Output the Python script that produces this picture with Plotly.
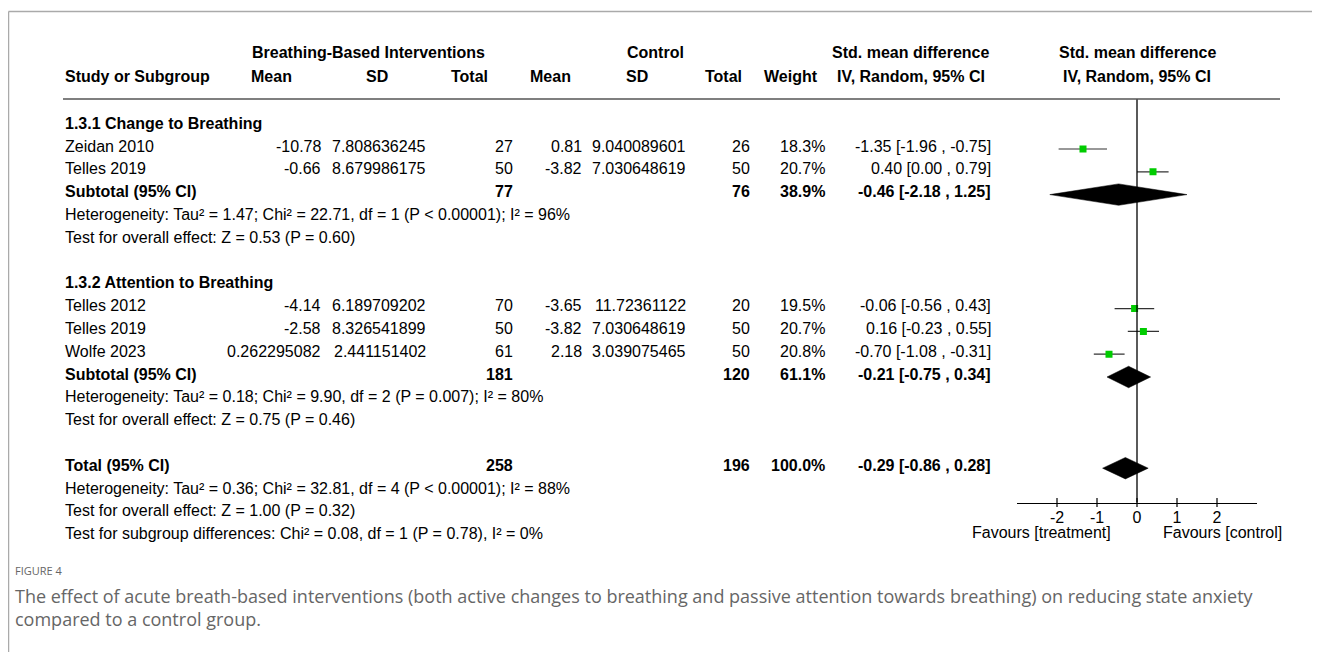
import plotly.graph_objects as go

# page has an 8px body margin -> figure is 1312x644 and coordinates below are page pixels
W, H = 1312, 644
OFF = 8

# ---------------- data ----------------
studies_1 = ["Zeidan 2010", "Telles 2019"]
trt_mean_1 = ["-10.78", "-0.66"]
trt_sd_1 = ["7.808636245", "8.679986175"]
trt_n_1 = [27, 50]
ctl_mean_1 = ["0.81", "-3.82"]
ctl_sd_1 = ["9.040089601", "7.030648619"]
ctl_n_1 = [26, 50]
weight_1 = ["18.3%", "20.7%"]
smd_1 = [-1.35, 0.40]
lo_1 = [-1.96, 0.00]
hi_1 = [-0.75, 0.79]
sub_1 = {"n_t": 77, "n_c": 76, "w": "38.9%", "smd": -0.46, "lo": -2.18, "hi": 1.25}
het_1 = "Heterogeneity: Tau² = 1.47; Chi² = 22.71, df = 1 (P < 0.00001); I² = 96%"
test_1 = "Test for overall effect: Z = 0.53 (P = 0.60)"

studies_2 = ["Telles 2012", "Telles 2019", "Wolfe 2023"]
trt_mean_2 = ["-4.14", "-2.58", "0.262295082"]
trt_sd_2 = ["6.189709202", "8.326541899", "2.441151402"]
trt_n_2 = [70, 50, 61]
ctl_mean_2 = ["-3.65", "-3.82", "2.18"]
ctl_sd_2 = ["11.72361122", "7.030648619", "3.039075465"]
ctl_n_2 = [20, 50, 50]
weight_2 = ["19.5%", "20.7%", "20.8%"]
smd_2 = [-0.06, 0.16, -0.70]
lo_2 = [-0.56, -0.23, -1.08]
hi_2 = [0.43, 0.55, -0.31]
sub_2 = {"n_t": 181, "n_c": 120, "w": "61.1%", "smd": -0.21, "lo": -0.75, "hi": 0.34}
het_2 = "Heterogeneity: Tau² = 0.18; Chi² = 9.90, df = 2 (P = 0.007); I² = 80%"
test_2 = "Test for overall effect: Z = 0.75 (P = 0.46)"

total = {"n_t": 258, "n_c": 196, "w": "100.0%", "smd": -0.29, "lo": -0.86, "hi": 0.28}
het_t = "Heterogeneity: Tau² = 0.36; Chi² = 32.81, df = 4 (P < 0.00001); I² = 88%"
test_t = "Test for overall effect: Z = 1.00 (P = 0.32)"
test_sub = "Test for subgroup differences: Chi² = 0.08, df = 1 (P = 0.78), I² = 0%"

ticks = [-2, -1, 0, 1, 2]
caption_label = "FIGURE 4"
caption_text = ("The effect of acute breath-based interventions (both active changes to breathing and passive "
                "attention towards breathing) on reducing state anxiety<br>compared to a control group.")

# ---------------- layout helpers ----------------
FONT = "Liberation Sans, Arial, sans-serif"
FS = 16
MARK0, DY = 149.0, 22.8          # marker centre of row 1, row pitch
TEXT_SHIFT = -3.0
AX_TOP, AX_BOT = 99.0, 502.5
X_LEFT_PX, X_RIGHT_PX = 1017.0, 1257.0
UNIT = 40.0
ZERO_PX = 1137.0


def fy(p):
    return 1 - (p - OFF) / H


def fx(p):
    return (p - OFF) / W


def mark_px(r):
    return MARK0 + DY * (r - 1)


def text_px(r):
    return mark_px(r) + TEXT_SHIFT


annotations = []


def txt(x, ypix, s, anchor="left", bold=False, size=FS, color="#000", fam=FONT):
    annotations.append(dict(
        x=fx(x), y=fy(ypix), xref="paper", yref="paper", text=("<b>%s</b>" % s) if bold else s,
        showarrow=False, xanchor=anchor, yanchor="middle",
        font=dict(family=fam, size=size, color=color)))


def rtxt(x, r, s, anchor="left", bold=False):
    txt(x, text_px(r), s, anchor, bold)


def ci_str(e, l, h):
    return "%.2f [%.2f , %.2f]" % (e, l, h)


# column x positions (pixels, right edges for numbers)
C_STUDY = 63
C_TMEAN = 323
C_TSD = 428
C_TN = 515
C_CMEAN = 584
C_CSD = 688
C_CN = 752
C_W = 827
C_CI = 993

# headers
H1, H2 = 53, 77
txt(368, H1, "Breathing-Based Interventions", "center", True)
txt(655, H1, "Control", "center", True)
txt(910, H1, "Std. mean difference", "center", True)
txt(1137, H1, "Std. mean difference", "center", True)
txt(C_STUDY, H2, "Study or Subgroup", "left", True)
txt(271, H2, "Mean", "center", True)
txt(377, H2, "SD", "center", True)
txt(490, H2, "Total", "right", True)
txt(550, H2, "Mean", "center", True)
txt(637, H2, "SD", "center", True)
txt(744, H2, "Total", "right", True)
txt(820, H2, "Weight", "right", True)
txt(911, H2, "IV, Random, 95% CI", "center", True)
txt(1137, H2, "IV, Random, 95% CI", "center", True)


def study_rows(r0, names, tm, tsd, tn, cm, csd, cn, w, e, l, h):
    for i, nm in enumerate(names):
        r = r0 + i
        rtxt(C_STUDY, r, nm)
        rtxt(C_TMEAN, r, tm[i], "right")
        rtxt(C_TSD, r, tsd[i], "right")
        rtxt(C_TN, r, str(tn[i]), "right")
        rtxt(C_CMEAN, r, cm[i], "right")
        rtxt(C_CSD, r, csd[i], "right")
        rtxt(C_CN, r, str(cn[i]), "right")
        rtxt(C_W, r, w[i], "right")
        rtxt(C_CI, r, ci_str(e[i], l[i], h[i]), "right")


def summary_row(r, label, d):
    rtxt(C_STUDY, r, label, bold=True)
    rtxt(C_TN, r, str(d["n_t"]), "right", True)
    rtxt(C_CN, r, str(d["n_c"]), "right", True)
    rtxt(C_W, r, d["w"], "right", True)
    rtxt(C_CI, r, ci_str(d["smd"], d["lo"], d["hi"]), "right", True)


rtxt(C_STUDY, 0, "1.3.1 Change to Breathing", bold=True)
study_rows(1, studies_1, trt_mean_1, trt_sd_1, trt_n_1, ctl_mean_1, ctl_sd_1, ctl_n_1, weight_1, smd_1, lo_1, hi_1)
summary_row(3, "Subtotal (95% CI)", sub_1)
rtxt(C_STUDY, 4, het_1)
rtxt(C_STUDY, 5, test_1)

rtxt(C_STUDY, 7, "1.3.2 Attention to Breathing", bold=True)
study_rows(8, studies_2, trt_mean_2, trt_sd_2, trt_n_2, ctl_mean_2, ctl_sd_2, ctl_n_2, weight_2, smd_2, lo_2, hi_2)
summary_row(11, "Subtotal (95% CI)", sub_2)
rtxt(C_STUDY, 12, het_2)
rtxt(C_STUDY, 13, test_2)

summary_row(15, "Total (95% CI)", total)
rtxt(C_STUDY, 16, het_t)
rtxt(C_STUDY, 17, test_t)
rtxt(C_STUDY, 18, test_sub)

# favours labels
txt(1113, 532, "Favours [treatment]", "right")
txt(1161, 532, "Favours [control]", "left")

# caption
CAP_FONT = "Open Sans, sans-serif"
txt(13, 570, caption_label, "left", size=11, color="#666", fam=CAP_FONT)
annotations.append(dict(x=fx(13), y=fy(582), xref="paper", yref="paper", text=caption_text,
                        showarrow=False, xanchor="left", yanchor="top", align="left",
                        font=dict(family=CAP_FONT, size=18, color="#666")))

# ---------------- forest plot ----------------
r_top = 1 + (AX_TOP - MARK0) / DY
r_bot = 1 + (AX_BOT - MARK0) / DY
x_lo = (X_LEFT_PX - ZERO_PX) / UNIT
x_hi = (X_RIGHT_PX - ZERO_PX) / UNIT

fig = go.Figure()

rows_studies = [1, 2, 8, 9, 10]
all_smd = smd_1 + smd_2
all_lo = lo_1 + lo_2
all_hi = hi_1 + hi_2
fig.add_trace(go.Scatter(
    x=all_smd, y=rows_studies, mode="markers",
    marker=dict(symbol="square", size=7, color="#00cc00", line=dict(width=0)),
    error_x=dict(type="data", symmetric=False,
                 array=[h - e for h, e in zip(all_hi, all_smd)],
                 arrayminus=[e - l for e, l in zip(all_smd, all_lo)],
                 color="#333", thickness=1.2, width=0),
    hoverinfo="skip", showlegend=False))

DH = 0.47
for r, d in [(3, sub_1), (11, sub_2), (15, total)]:
    fig.add_trace(go.Scatter(
        x=[d["lo"], d["smd"], d["hi"], d["smd"], d["lo"]],
        y=[r, r - DH, r, r + DH, r], mode="lines", fill="toself",
        fillcolor="#000", line=dict(color="#000", width=0.5),
        hoverinfo="skip", showlegend=False))

# ticks crossing the axis line
for t in ticks:
    fig.add_shape(type="line", xref="x", yref="paper", x0=t, x1=t,
                  y0=fy(AX_BOT + 4.5), y1=fy(AX_BOT - 4.5), line=dict(color="#000", width=1.2))

shapes = [
    dict(type="line", xref="x", yref="paper", x0=0, x1=0, y0=fy(AX_BOT), y1=fy(AX_TOP),
         line=dict(color="#000", width=1.3)),
    dict(type="line", xref="paper", yref="paper", x0=fx(63), x1=fx(1280), y0=fy(AX_TOP), y1=fy(AX_TOP),
         line=dict(color="#555", width=1.6)),
    dict(type="line", xref="paper", yref="paper", x0=fx(8.5), x1=1, y0=fy(11.5), y1=fy(11.5),
         line=dict(color="#aaa", width=1.5)),
    dict(type="line", xref="paper", yref="paper", x0=fx(8.5), x1=fx(8.5), y0=0, y1=fy(11.5),
         line=dict(color="#aaa", width=1.5)),
]
for s in shapes:
    fig.add_shape(**s)

fig.update_layout(
    width=W, height=H, margin=dict(l=0, r=0, t=0, b=0),
    paper_bgcolor="white", plot_bgcolor="rgba(0,0,0,0)",
    annotations=annotations, showlegend=False,
    xaxis=dict(domain=[fx(X_LEFT_PX), fx(X_RIGHT_PX)], range=[x_lo, x_hi], tickvals=ticks,
               ticktext=[str(t) for t in ticks], showgrid=False, zeroline=False,
               showline=True, linecolor="#000", linewidth=1.2, ticks="", ticklen=0,
               anchor="y", tickfont=dict(family=FONT, size=FS, color="#000")),
    yaxis=dict(domain=[fy(AX_BOT), fy(AX_TOP)], range=[r_bot, r_top], visible=False,
               showgrid=False, zeroline=False),
)

fig.write_html("out.html")
